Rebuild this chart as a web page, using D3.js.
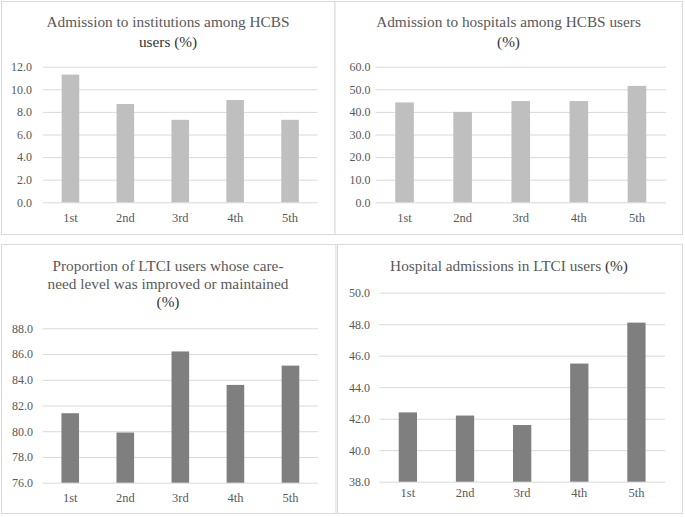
<!DOCTYPE html>
<html>
<head>
<meta charset="utf-8">
<script src="https://cdn.jsdelivr.net/npm/d3@7"></script>
<style>
  html, body { margin: 0; padding: 0; background: #ffffff; }
  svg { display: block; }
</style>
</head>
<body>
<svg id="chart" width="685" height="517"></svg>
<script>
// ---------- data ----------
const categories = ["1st", "2nd", "3rd", "4th", "5th"];
const institutionAdmissionHCBS = [11.3, 8.7, 7.3, 9.05, 7.3];
const hospitalAdmissionHCBS = [44.2, 40.0, 44.8, 44.8, 51.5];
const careLevelImprovedMaintained = [81.4, 79.9, 86.2, 83.6, 85.1];
const hospitalAdmissionLTCI = [42.4, 42.2, 41.6, 45.5, 48.1];

const ticksInstitutionHCBS = [0, 2, 4, 6, 8, 10, 12];
const ticksHospitalHCBS = [0, 10, 20, 30, 40, 50, 60];
const ticksCareLevel = [76, 78, 80, 82, 84, 86, 88];
const ticksHospitalLTCI = [38, 40, 42, 44, 46, 48, 50];

const titleInstitutionHCBS = [[["Admission to institutions among HCBS", false]], [["users (%)", true]]];
const titleHospitalHCBS = [[["Admission to hospitals among HCBS users", false]], [["(%)", true]]];
const titleCareLevel = [[["Proportion of LTCI users whose care-", false]], [["need level was improved or maintained", false]], [["(%)", true]]];
const titleHospitalLTCI = [[["Hospital admissions in LTCI users ", false], ["(%)", true]]];

// ---------- layout ----------
const panels = [
  { values: institutionAdmissionHCBS, ticks: ticksInstitutionHCBS, title: titleInstitutionHCBS, color: "#bfbfbf",
    box: [1.5, 1.5, 333.5, 233], plot: [43, 317.5, 66.7, 202.3], titleX: 168, titleY: [26.5, 46.5], labelRight: 32, xLabelY: 222 },
  { values: hospitalAdmissionHCBS, ticks: ticksHospitalHCBS, title: titleHospitalHCBS, color: "#bfbfbf",
    box: [335, 1.5, 347.5, 233], plot: [375.5, 666, 66.7, 202.3], titleX: 508.5, titleY: [26.5, 46.5], labelRight: 370.5, xLabelY: 222 },
  { values: careLevelImprovedMaintained, ticks: ticksCareLevel, title: titleCareLevel, color: "#7f7f7f",
    box: [1.5, 244.5, 334.5, 269], plot: [42.7, 318, 328.3, 482.7], titleX: 168, titleY: [270.5, 288.8, 306.8], labelRight: 33, xLabelY: 502 },
  { values: hospitalAdmissionLTCI, ticks: ticksHospitalLTCI, title: titleHospitalLTCI, color: "#7f7f7f",
    box: [337.5, 244.5, 345, 269], plot: [379.3, 665, 292.7, 481.7], titleX: 509, titleY: [270.5], labelRight: 370, xLabelY: 497 }
];

const svg = d3.select("#chart");
const FONT = "'Liberation Serif', 'Times New Roman', serif";
const TEXT = "#595959";
const DARK = "#333333";
const GRID = "#d9d9d9";

panels.forEach(p => {
  const g = svg.append("g");
  const [bx, by, bw, bh] = p.box;
  g.append("rect").attr("x", bx).attr("y", by).attr("width", bw).attr("height", bh)
    .attr("fill", "#fff").attr("stroke", GRID).attr("stroke-width", 1);

  const [x0, x1, yTop, yBot] = p.plot;
  const x = d3.scaleBand().domain(categories).range([x0, x1]).paddingInner(0.68).paddingOuter(0.34);
  const y = d3.scaleLinear().domain([p.ticks[0], p.ticks[p.ticks.length - 1]]).range([yBot, yTop]);

  // gridlines
  const yAxis = d3.axisLeft(y).tickValues(p.ticks).tickSize(-(x1 - x0)).tickFormat(d => d.toFixed(1)).tickPadding(x0 - p.labelRight);
  const ag = g.append("g").attr("transform", `translate(${x0},0)`).call(yAxis);
  ag.select(".domain").remove();
  ag.selectAll(".tick line").attr("stroke", GRID).attr("stroke-width", 1);
  ag.selectAll(".tick text").attr("fill", TEXT).style("font-family", FONT).style("font-size", "12px");

  // bars
  g.selectAll("rect.bar").data(p.values).join("rect").attr("class", "bar")
    .attr("x", (d, i) => x(categories[i]))
    .attr("width", x.bandwidth())
    .attr("y", d => y(d))
    .attr("height", d => y(p.ticks[0]) - y(d))
    .attr("fill", p.color);

  // x labels
  const xAxis = d3.axisBottom(x).tickSize(0).tickPadding(0);
  const xg = g.append("g").attr("transform", `translate(0,${p.xLabelY})`).call(xAxis);
  xg.select(".domain").remove();
  xg.selectAll(".tick text").attr("fill", TEXT).attr("dy", 0).attr("y", 0)
    .style("font-family", FONT).style("font-size", "12.5px");

  // title
  p.title.forEach((line, li) => {
    const t = g.append("text").attr("x", p.titleX).attr("y", p.titleY[li])
      .attr("text-anchor", "middle").style("font-family", FONT).style("font-size", "15.3px");
    line.forEach(([s, dark]) => {
      t.append("tspan").text(s).attr("fill", dark ? DARK : TEXT);
    });
  });
});
</script>
</body>
</html>
